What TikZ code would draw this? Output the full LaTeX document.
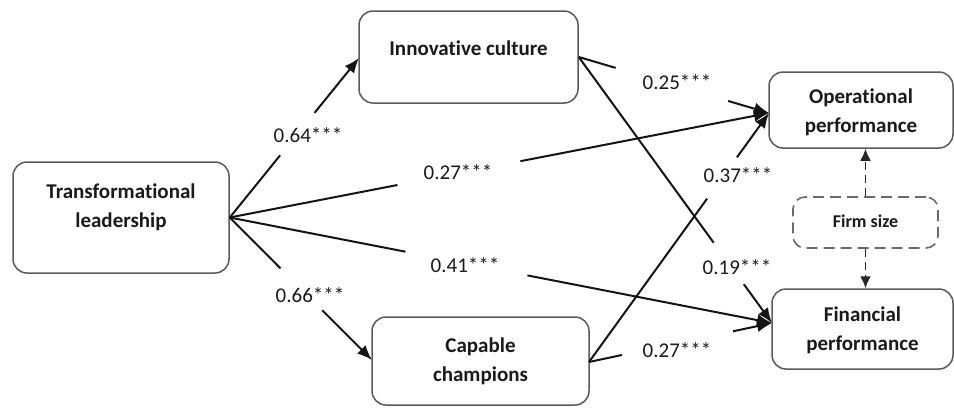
\documentclass[tikz,border=0pt]{standalone}
\usepackage{fontspec}
\setmainfont{Carlito}[Ligatures=NoCommon]
\usetikzlibrary{arrows.meta,calc}
\definecolor{boxgray}{HTML}{5A5A5A}
\definecolor{dgray}{HTML}{6A6A6A}
\definecolor{txt}{HTML}{1A1A1A}
\begin{document}
\begin{tikzpicture}[x=1pt,y=-1pt,
  box/.style={draw=boxgray, line width=1.5pt, rounded corners=14pt, fill=white, inner sep=0pt},
  btext/.style={font=\fontsize{21}{29}\selectfont\bfseries, align=center, text=txt, inner sep=0pt},
  coef/.style={font=\fontsize{21}{25}\selectfont, text=txt, inner sep=0pt},
  edge/.style={line width=2pt, draw=black!92},
  arr/.style={-{Latex[length=15pt,width=12pt]}},
  dbox/.style={draw=dgray, line width=1.6pt, dash pattern=on 11pt off 6pt, rounded corners=12pt, fill=white, inner sep=0pt},
  darr/.style={line width=1.9pt, draw=black!85, dash pattern=on 8pt off 5pt, -{Latex[length=12pt,width=11pt]}}
]
\useasboundingbox (0,0) rectangle (954,408);

% boxes
\node[box, minimum width=216pt, minimum height=111pt] (TL) at (121,217.5) {};
\node[btext] (TLt) at (121,207.5) {Transformational\\leadership};
\node[box, minimum width=219pt, minimum height=92pt] (IC) at (468.5,57) {};
\node[btext] (ICt) at (468.5,48) {Innovative culture};
\node[box, minimum width=184pt, minimum height=76pt] (OP) at (861,110) {};
\node[btext] (OPt) at (861,112.5) {Operational\\performance};
\node[box, minimum width=181pt, minimum height=80pt] (FP) at (862.5,329) {};
\node[btext] (FPt) at (862.5,330) {Financial\\performance};
\node[box, minimum width=217pt, minimum height=88pt] (CC) at (480.5,361) {};
\node[btext] (CCt) at (480.5,361) {Capable\\champions};
\node[dbox, minimum width=145pt, minimum height=51pt] (FS) at (865.5,222.5) {};
\node[btext, font=\fontsize{18}{22}\selectfont\bfseries] (FSt) at (865.5,221) {Firm size};

% entry points
\coordinate (opin) at (769,113);
\coordinate (fpin) at (772,323);
\coordinate (ccin) at (372,360);
\coordinate (icin) at (359,58);
\coordinate (ccout) at (589,362);

% TL -> IC
\draw[edge] (TL.east) -- ($(TL.east)!0.39!(icin)$);
\draw[edge,arr] ($(TL.east)!0.656!(icin)$) -- (icin);
\node[coef] (l1) at (308,135) {0.64***};
% TL -> OP
\draw[edge] (TL.east) -- ($(TL.east)!0.311!(opin)$);
\draw[edge,arr] ($(TL.east)!0.539!(opin)$) -- (opin);
\node[coef] (l2) at (458,172) {0.27***};
% TL -> FP
\draw[edge] (TL.east) -- ($(TL.east)!0.324!(fpin)$);
\draw[edge,arr] ($(TL.east)!0.549!(fpin)$) -- (fpin);
\node[coef] (l3) at (465,265) {0.41***};
% TL -> CC
\draw[edge] (TL.east) -- ($(TL.east)!0.357!(ccin)$);
\draw[edge,arr] ($(TL.east)!0.65!(ccin)$) -- (ccin);
\node[coef] (l4) at (310,295) {0.66***};
% IC -> OP
\draw[edge] (IC.east) -- ($(IC.east)!0.194!(opin)$);
\draw[edge,arr] ($(IC.east)!0.785!(opin)$) -- (opin);
\node[coef] (l5) at (677,82) {0.25***};
% IC -> FP
\draw[edge] (IC.east) -- ($(IC.east)!0.698!(fpin)$);
\draw[edge,arr] ($(IC.east)!0.854!(fpin)$) -- (fpin);
\node[coef] (l6) at (737,267) {0.19***};
% CC -> OP
\draw[edge] (ccout) -- ($(ccout)!0.656!(opin)$);
\draw[edge,arr] ($(ccout)!0.822!(opin)$) -- (opin);
\node[coef] (l7) at (738,175) {0.37***};
% CC -> FP
\draw[edge] (ccout) -- ($(ccout)!0.18!(fpin)$);
\draw[edge,arr] ($(ccout)!0.787!(fpin)$) -- (fpin);
\node[coef] (l8) at (677,350) {0.27***};

% firm size
\draw[darr] (FS.north) -- (FS.north |- OP.south);
\draw[darr] (FS.south) -- (FS.south |- FP.north);
\end{tikzpicture}
\end{document}
